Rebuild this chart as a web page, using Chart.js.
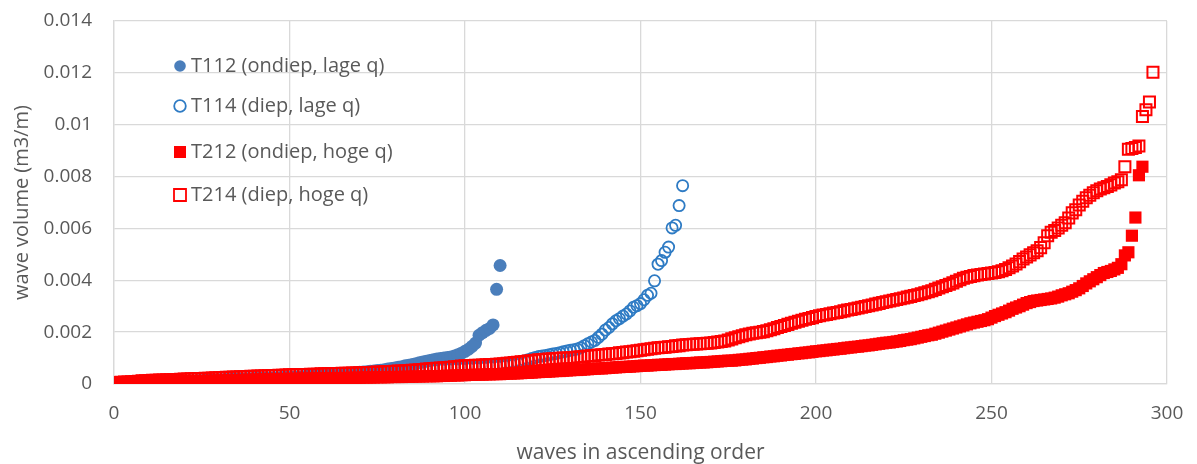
<!DOCTYPE html>
<html>
<head>
<meta charset="utf-8">
<script src="https://cdn.jsdelivr.net/npm/chart.js"></script>
<style>
  body { margin: 0; background: #ffffff; }
  #box { width: 1197px; height: 464px; }
</style>
</head>
<body>
<div id="box"><canvas id="grafiek" width="1197" height="464"></canvas></div>
<script>
// reeksnamen (legenda)
const reeksNamen = ['T112 (ondiep, lage q)', 'T114 (diep, lage q)', 'T212 (ondiep, hoge q)', 'T214 (diep, hoge q)'];

// golfvolumes (m3/m), oplopend gesorteerd; golf nr = positie in de lijst
const t112 = [
  0.00000, 0.00001, 0.00001, 0.00001, 0.00002, 0.00002, 0.00002, 0.00002, 0.00003, 0.00003,
  0.00003, 0.00003, 0.00004, 0.00004, 0.00004, 0.00004, 0.00005, 0.00005, 0.00005, 0.00005,
  0.00006, 0.00006, 0.00006, 0.00006, 0.00007, 0.00007, 0.00007, 0.00008, 0.00008, 0.00008,
  0.00009, 0.00010, 0.00010, 0.00011, 0.00012, 0.00012, 0.00013, 0.00014, 0.00015, 0.00015,
  0.00016, 0.00017, 0.00018, 0.00018, 0.00019, 0.00020, 0.00021, 0.00022, 0.00022, 0.00023,
  0.00024, 0.00025, 0.00026, 0.00027, 0.00028, 0.00029, 0.00030, 0.00031, 0.00032, 0.00033,
  0.00034, 0.00035, 0.00036, 0.00037, 0.00038, 0.00040, 0.00041, 0.00042, 0.00043, 0.00045,
  0.00046, 0.00047, 0.00049, 0.00050, 0.00052, 0.00053, 0.00055, 0.00058, 0.00060, 0.00062,
  0.00065, 0.00067, 0.00070, 0.00072, 0.00075, 0.00078, 0.00082, 0.00085, 0.00088, 0.00091,
  0.00094, 0.00096, 0.00098, 0.00100, 0.00102, 0.00104, 0.00108, 0.00113, 0.00119, 0.00126,
  0.00134, 0.00145, 0.00158, 0.00188, 0.00198, 0.00207, 0.00214, 0.00228, 0.00365, 0.00457
];

const t114 = [
  0.00001, 0.00002, 0.00002, 0.00003, 0.00003, 0.00004, 0.00004, 0.00005, 0.00005, 0.00006,
  0.00006, 0.00007, 0.00007, 0.00008, 0.00008, 0.00009, 0.00009, 0.00010, 0.00010, 0.00011,
  0.00011, 0.00012, 0.00012, 0.00013, 0.00013, 0.00014, 0.00014, 0.00015, 0.00015, 0.00016,
  0.00016, 0.00017, 0.00017, 0.00018, 0.00018, 0.00019, 0.00019, 0.00020, 0.00020, 0.00021,
  0.00021, 0.00022, 0.00022, 0.00023, 0.00023, 0.00024, 0.00024, 0.00025, 0.00025, 0.00026,
  0.00026, 0.00027, 0.00027, 0.00028, 0.00029, 0.00029, 0.00030, 0.00030, 0.00031, 0.00032,
  0.00032, 0.00033, 0.00034, 0.00034, 0.00035, 0.00036, 0.00036, 0.00037, 0.00038, 0.00039,
  0.00039, 0.00040, 0.00041, 0.00042, 0.00043, 0.00044, 0.00045, 0.00046, 0.00047, 0.00048,
  0.00049, 0.00050, 0.00051, 0.00052, 0.00053, 0.00054, 0.00055, 0.00056, 0.00057, 0.00058,
  0.00059, 0.00060, 0.00060, 0.00061, 0.00061, 0.00062, 0.00062, 0.00063, 0.00063, 0.00064,
  0.00064, 0.00065, 0.00066, 0.00066, 0.00067, 0.00068, 0.00069, 0.00070, 0.00071, 0.00072,
  0.00074, 0.00076, 0.00078, 0.00080, 0.00083, 0.00086, 0.00090, 0.00094, 0.00098, 0.00102,
  0.00106, 0.00108, 0.00110, 0.00113, 0.00116, 0.00118, 0.00121, 0.00124, 0.00127, 0.00130,
  0.00132, 0.00135, 0.00140, 0.00148, 0.00155, 0.00162, 0.00168, 0.00180, 0.00192, 0.00208,
  0.00218, 0.00232, 0.00244, 0.00252, 0.00262, 0.00270, 0.00282, 0.00296, 0.00302, 0.00310,
  0.00325, 0.00342, 0.00350, 0.00398, 0.00462, 0.00476, 0.00508, 0.00528, 0.00602, 0.00612,
  0.00688, 0.00765
];

const t212 = [
  0.00002, 0.00003, 0.00003, 0.00004, 0.00004, 0.00005, 0.00006, 0.00006, 0.00007, 0.00008,
  0.00008, 0.00008, 0.00009, 0.00009, 0.00009, 0.00010, 0.00010, 0.00010, 0.00010, 0.00011,
  0.00011, 0.00011, 0.00011, 0.00012, 0.00012, 0.00012, 0.00012, 0.00013, 0.00013, 0.00013,
  0.00014, 0.00014, 0.00014, 0.00015, 0.00015, 0.00015, 0.00016, 0.00016, 0.00016, 0.00017,
  0.00017, 0.00017, 0.00018, 0.00018, 0.00018, 0.00019, 0.00019, 0.00019, 0.00020, 0.00020,
  0.00020, 0.00020, 0.00021, 0.00021, 0.00021, 0.00021, 0.00022, 0.00022, 0.00022, 0.00022,
  0.00022, 0.00023, 0.00023, 0.00023, 0.00023, 0.00023, 0.00024, 0.00024, 0.00024, 0.00024,
  0.00025, 0.00025, 0.00025, 0.00025, 0.00026, 0.00026, 0.00026, 0.00026, 0.00027, 0.00027,
  0.00027, 0.00027, 0.00028, 0.00028, 0.00028, 0.00029, 0.00029, 0.00029, 0.00030, 0.00030,
  0.00030, 0.00030, 0.00031, 0.00031, 0.00032, 0.00032, 0.00033, 0.00033, 0.00034, 0.00034,
  0.00035, 0.00035, 0.00036, 0.00036, 0.00036, 0.00037, 0.00037, 0.00038, 0.00038, 0.00038,
  0.00039, 0.00040, 0.00040, 0.00041, 0.00041, 0.00042, 0.00043, 0.00043, 0.00044, 0.00045,
  0.00046, 0.00047, 0.00047, 0.00048, 0.00049, 0.00050, 0.00050, 0.00051, 0.00052, 0.00053,
  0.00054, 0.00054, 0.00055, 0.00056, 0.00057, 0.00058, 0.00059, 0.00060, 0.00060, 0.00061,
  0.00062, 0.00063, 0.00064, 0.00065, 0.00066, 0.00066, 0.00067, 0.00068, 0.00069, 0.00070,
  0.00071, 0.00071, 0.00072, 0.00073, 0.00074, 0.00074, 0.00075, 0.00076, 0.00077, 0.00077,
  0.00078, 0.00079, 0.00080, 0.00080, 0.00081, 0.00082, 0.00083, 0.00083, 0.00084, 0.00085,
  0.00086, 0.00087, 0.00088, 0.00089, 0.00090, 0.00090, 0.00091, 0.00093, 0.00094, 0.00095,
  0.00097, 0.00098, 0.00100, 0.00101, 0.00103, 0.00104, 0.00106, 0.00107, 0.00109, 0.00110,
  0.00112, 0.00113, 0.00115, 0.00116, 0.00118, 0.00119, 0.00121, 0.00122, 0.00124, 0.00126,
  0.00127, 0.00129, 0.00130, 0.00132, 0.00133, 0.00135, 0.00136, 0.00138, 0.00140, 0.00141,
  0.00143, 0.00144, 0.00146, 0.00148, 0.00149, 0.00151, 0.00153, 0.00155, 0.00157, 0.00159,
  0.00160, 0.00162, 0.00164, 0.00166, 0.00169, 0.00171, 0.00173, 0.00176, 0.00179, 0.00182,
  0.00185, 0.00188, 0.00190, 0.00194, 0.00198, 0.00202, 0.00206, 0.00210, 0.00214, 0.00218,
  0.00222, 0.00226, 0.00230, 0.00234, 0.00237, 0.00240, 0.00243, 0.00246, 0.00250, 0.00256,
  0.00262, 0.00267, 0.00272, 0.00277, 0.00283, 0.00290, 0.00295, 0.00300, 0.00306, 0.00312,
  0.00316, 0.00320, 0.00322, 0.00324, 0.00326, 0.00328, 0.00330, 0.00333, 0.00337, 0.00342,
  0.00346, 0.00350, 0.00356, 0.00362, 0.00369, 0.00378, 0.00388, 0.00396, 0.00404, 0.00412,
  0.00420, 0.00428, 0.00432, 0.00436, 0.00442, 0.00448, 0.00462, 0.00496, 0.00508, 0.00572,
  0.00642, 0.00805, 0.00838
];

const t214 = [
  0.00006, 0.00007, 0.00008, 0.00008, 0.00009, 0.00010, 0.00011, 0.00012, 0.00012, 0.00013,
  0.00014, 0.00014, 0.00015, 0.00015, 0.00016, 0.00016, 0.00017, 0.00017, 0.00018, 0.00019,
  0.00019, 0.00020, 0.00020, 0.00021, 0.00021, 0.00022, 0.00022, 0.00023, 0.00024, 0.00024,
  0.00025, 0.00026, 0.00026, 0.00027, 0.00027, 0.00028, 0.00028, 0.00029, 0.00030, 0.00030,
  0.00031, 0.00031, 0.00032, 0.00032, 0.00033, 0.00033, 0.00034, 0.00034, 0.00035, 0.00036,
  0.00036, 0.00036, 0.00037, 0.00037, 0.00037, 0.00038, 0.00038, 0.00038, 0.00039, 0.00039,
  0.00039, 0.00040, 0.00040, 0.00040, 0.00041, 0.00041, 0.00041, 0.00042, 0.00042, 0.00043,
  0.00043, 0.00044, 0.00044, 0.00045, 0.00046, 0.00046, 0.00047, 0.00048, 0.00048, 0.00049,
  0.00050, 0.00050, 0.00051, 0.00052, 0.00053, 0.00054, 0.00055, 0.00056, 0.00058, 0.00059,
  0.00060, 0.00061, 0.00062, 0.00063, 0.00064, 0.00065, 0.00066, 0.00067, 0.00069, 0.00070,
  0.00070, 0.00071, 0.00072, 0.00072, 0.00073, 0.00074, 0.00075, 0.00075, 0.00076, 0.00077,
  0.00078, 0.00080, 0.00081, 0.00083, 0.00084, 0.00086, 0.00087, 0.00089, 0.00090, 0.00092,
  0.00093, 0.00094, 0.00095, 0.00096, 0.00097, 0.00098, 0.00099, 0.00100, 0.00100, 0.00101,
  0.00102, 0.00104, 0.00105, 0.00106, 0.00108, 0.00109, 0.00110, 0.00112, 0.00113, 0.00114,
  0.00116, 0.00117, 0.00118, 0.00120, 0.00121, 0.00123, 0.00124, 0.00126, 0.00128, 0.00130,
  0.00132, 0.00134, 0.00136, 0.00138, 0.00140, 0.00141, 0.00142, 0.00144, 0.00145, 0.00147,
  0.00148, 0.00150, 0.00151, 0.00152, 0.00153, 0.00154, 0.00155, 0.00156, 0.00157, 0.00158,
  0.00160, 0.00162, 0.00164, 0.00166, 0.00170, 0.00174, 0.00178, 0.00182, 0.00186, 0.00190,
  0.00193, 0.00196, 0.00198, 0.00200, 0.00202, 0.00205, 0.00209, 0.00213, 0.00218, 0.00222,
  0.00226, 0.00230, 0.00234, 0.00238, 0.00242, 0.00246, 0.00250, 0.00253, 0.00256, 0.00260,
  0.00263, 0.00266, 0.00268, 0.00271, 0.00274, 0.00276, 0.00279, 0.00282, 0.00285, 0.00287,
  0.00290, 0.00293, 0.00296, 0.00299, 0.00302, 0.00305, 0.00308, 0.00311, 0.00314, 0.00317,
  0.00320, 0.00323, 0.00326, 0.00329, 0.00332, 0.00335, 0.00338, 0.00341, 0.00344, 0.00348,
  0.00352, 0.00356, 0.00360, 0.00365, 0.00370, 0.00375, 0.00380, 0.00385, 0.00390, 0.00396,
  0.00402, 0.00408, 0.00412, 0.00415, 0.00418, 0.00420, 0.00422, 0.00424, 0.00426, 0.00428,
  0.00430, 0.00433, 0.00437, 0.00442, 0.00448, 0.00455, 0.00463, 0.00472, 0.00482, 0.00490,
  0.00498, 0.00506, 0.00514, 0.00526, 0.00545, 0.00572, 0.00585, 0.00592, 0.00602, 0.00612,
  0.00622, 0.00640, 0.00660, 0.00672, 0.00690, 0.00705, 0.00718, 0.00728, 0.00738, 0.00745,
  0.00752, 0.00757, 0.00762, 0.00768, 0.00775, 0.00780, 0.00788, 0.00838, 0.00905, 0.00908,
  0.00912, 0.00918, 0.01032, 0.01058, 0.01088, 0.01202
];

// as-verdeling
const xAs = { min: 0, max: 300, stap: 50 };
const yAs = { min: 0, max: 0.014, stap: 0.002 };

const grijs = '#595959';
const lettertype = "'Open Sans', 'Liberation Sans', sans-serif";

// van lijst naar punten (x = golfnummer)
function naarPunten(lijst) {
  return lijst.map((v, i) => ({ x: i + 1, y: v }));
}

// legenda binnen het plotvlak tekenen, zoals in Excel
const legendaBinnen = {
  id: 'legendaBinnen',
  afterDraw(chart) {
    const ctx = chart.ctx;
    const vlak = chart.chartArea;
    const rijen = [45, 85, 131, 174];
    ctx.save();
    chart.data.datasets.forEach((ds, i) => {
      const x = vlak.left + 66;
      const y = vlak.top + rijen[i];
      ctx.beginPath();
      if (ds.pointStyle === 'circle') {
        ctx.arc(x, y, 5.8, 0, Math.PI * 2);
      } else {
        ctx.rect(x - 6, y - 6, 12, 12);
      }
      if (ds.backgroundColor !== 'transparent') {
        ctx.fillStyle = ds.backgroundColor;
        ctx.fill();
      } else {
        ctx.lineWidth = 1.8;
        ctx.strokeStyle = ds.borderColor;
        ctx.stroke();
      }
      ctx.fillStyle = grijs;
      ctx.font = '20px ' + lettertype;
      ctx.textBaseline = 'middle';
      ctx.textAlign = 'left';
      ctx.fillText(ds.label, x + 11, y);
    });
    ctx.restore();
  }
};

const canvas = document.getElementById('grafiek');

new Chart(canvas, {
  type: 'scatter',
  data: {
    datasets: [
      {
        label: reeksNamen[0],
        data: naarPunten(t112),
        pointStyle: 'circle',
        pointRadius: 6.5,
        backgroundColor: '#4a7ebb',
        borderColor: '#4a7ebb',
        borderWidth: 0,
        order: 4
      },
      {
        label: reeksNamen[1],
        data: naarPunten(t114),
        pointStyle: 'circle',
        pointRadius: 5.6,
        backgroundColor: 'transparent',
        borderColor: '#2e7bc4',
        borderWidth: 1.8,
        order: 3
      },
      {
        label: reeksNamen[2],
        data: naarPunten(t212),
        pointStyle: 'rect',
        pointRadius: 8.6,
        backgroundColor: '#ff0000',
        borderColor: '#ff0000',
        borderWidth: 0,
        order: 2
      },
      {
        label: reeksNamen[3],
        data: naarPunten(t214),
        pointStyle: 'rect',
        pointRadius: 7.8,
        backgroundColor: 'transparent',
        borderColor: '#ff0000',
        borderWidth: 2,
        order: 1
      }
    ]
  },
  options: {
    responsive: false,
    animation: false,
    devicePixelRatio: 1,
    layout: { padding: { top: 21, right: 30, bottom: 0, left: 0 } },
    scales: {
      x: {
        type: 'linear',
        min: xAs.min,
        max: xAs.max,
        afterFit: (s) => { s.height = 80; s.paddingLeft = 0; s.paddingRight = 0; },
        ticks: { stepSize: xAs.stap, color: grijs, padding: 18, font: { family: lettertype, size: 19 } },
        grid: { color: '#d9d9d9', lineWidth: 1.3, drawTicks: false },
        border: { color: '#d9d9d9', width: 1.3 },
        title: { display: true, text: 'waves in ascending order', color: grijs, padding: { top: 0, bottom: -2 }, font: { family: lettertype, size: 21 } }
      },
      y: {
        min: yAs.min,
        max: yAs.max,
        afterFit: (s) => { s.width = 114; s.paddingTop = 0; s.paddingBottom = 0; },
        ticks: {
          stepSize: yAs.stap,
          color: grijs,
          padding: 22,
          font: { family: lettertype, size: 19 },
          callback: (v) => String(Number(v.toFixed(3)))
        },
        grid: { color: '#d9d9d9', lineWidth: 1.3, drawTicks: false },
        border: { color: '#d9d9d9', width: 1.3 },
        title: { display: true, text: 'wave volume (m3/m)', color: grijs, padding: { top: 10, bottom: 0 }, font: { family: lettertype, size: 20 } }
      }
    },
    plugins: {
      legend: { display: false },
      tooltip: { enabled: false }
    }
  },
  plugins: [legendaBinnen]
});
</script>
</body>
</html>
